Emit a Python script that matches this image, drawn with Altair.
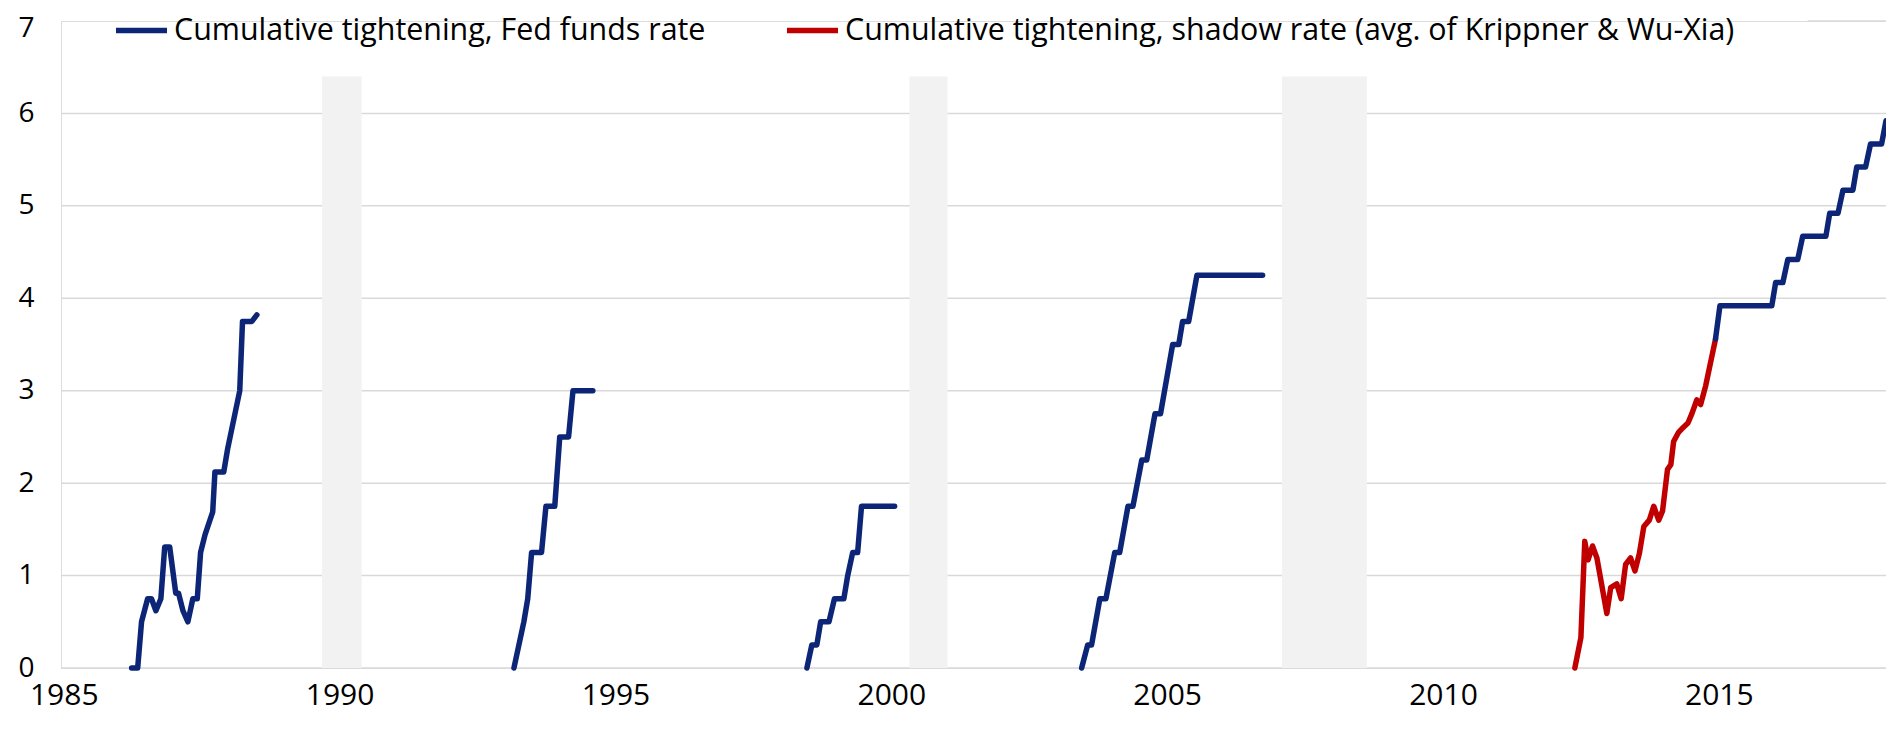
import altair as alt
import pandas as pd

# ---------------- data (x in axis-label years, y in percentage points) ----------------
FED_NAME = "Cumulative tightening, Fed funds rate"
SHADOW_NAME = "Cumulative tightening, shadow rate (avg. of Krippner & Wu-Xia)"

fed_1986_x = [1986.23, 1986.34, 1986.41, 1986.52, 1986.59, 1986.67, 1986.76, 1986.83, 1986.92,
              1987.03, 1987.08, 1987.16, 1987.25, 1987.34, 1987.42, 1987.48, 1987.56, 1987.70,
              1987.74, 1987.90, 1987.97, 1988.19, 1988.24, 1988.41, 1988.50]
fed_1986_y = [0, 0, 0.5, 0.75, 0.75, 0.62, 0.75, 1.31, 1.31, 0.81, 0.81, 0.62, 0.5, 0.75, 0.75,
              1.25, 1.44, 1.69, 2.12, 2.12, 2.37, 3.0, 3.75, 3.75, 3.82]

fed_1994_x = [1993.16, 1993.34, 1993.41, 1993.48, 1993.66, 1993.74, 1993.90, 1993.99, 1994.15,
              1994.23, 1994.59]
fed_1994_y = [0, 0.5, 0.75, 1.25, 1.25, 1.75, 1.75, 2.5, 2.5, 3.0, 3.0]

fed_1999_x = [1998.47, 1998.56, 1998.65, 1998.72, 1998.87, 1998.97, 1999.14, 1999.21, 1999.30,
              1999.39, 1999.46, 2000.06]
fed_1999_y = [0, 0.25, 0.25, 0.5, 0.5, 0.75, 0.75, 1.0, 1.25, 1.25, 1.75, 1.75]

fed_2004_x = [2003.45, 2003.56, 2003.63, 2003.78, 2003.89, 2004.05, 2004.14, 2004.29, 2004.38,
              2004.54, 2004.63, 2004.78, 2004.88, 2005.10, 2005.21, 2005.28, 2005.39, 2005.54,
              2006.73]
fed_2004_y = [0, 0.25, 0.25, 0.75, 0.75, 1.25, 1.25, 1.75, 1.75, 2.25, 2.25, 2.75, 2.75, 3.5,
              3.5, 3.75, 3.75, 4.25, 4.25]

shadow_2013_x = [2012.39, 2012.50, 2012.57, 2012.63, 2012.71, 2012.79, 2012.97, 2013.04, 2013.15,
                 2013.23, 2013.31, 2013.40, 2013.48, 2013.56, 2013.64, 2013.74, 2013.82, 2013.91,
                 2013.98, 2014.07, 2014.13, 2014.18, 2014.27, 2014.35, 2014.44, 2014.51, 2014.60,
                 2014.67, 2014.76, 2014.94]
shadow_2013_y = [0, 0.33, 1.37, 1.17, 1.32, 1.19, 0.59, 0.87, 0.91, 0.75, 1.12, 1.19, 1.05, 1.24,
                 1.53, 1.6, 1.75, 1.6, 1.7, 2.15, 2.2, 2.45, 2.55, 2.6, 2.65, 2.75, 2.9, 2.85,
                 3.05, 3.56]

fed_2016_x = [2014.94, 2015.02, 2015.96, 2016.03, 2016.16, 2016.25, 2016.43, 2016.52, 2016.94,
              2017.01, 2017.16, 2017.25, 2017.43, 2017.50, 2017.66, 2017.75, 2017.95, 2018.03]
fed_2016_y = [3.56, 3.92, 3.92, 4.17, 4.17, 4.42, 4.42, 4.67, 4.67, 4.92, 4.92, 5.17, 5.17, 5.42,
              5.42, 5.67, 5.67, 5.92]

# recession shading (visible extent)
shade_start = [1989.68, 2000.33, 2007.08]
shade_end = [1990.40, 2001.02, 2008.62]
shade_bottom = [0, 0, 0]
shade_top = [6.4, 6.4, 6.4]

x_ticks = [1985, 1990, 1995, 2000, 2005, 2010, 2015]
y_ticks = [0, 1, 2, 3, 4, 5, 6, 7]
grid_values = [0, 1, 2, 3, 4, 5, 6]
# only the right-hand end of the top gridline shows beside the legend
top_grid_start = [2016.61]
top_grid_end = [2018.03]
top_grid_value = [7]

# ---------------- tables ----------------
rows = []
def add(series, cycle, xs, ys):
    for i, (xv, yv) in enumerate(zip(xs, ys)):
        rows.append({"series": series, "cycle": cycle, "idx": i, "x": xv, "y": yv})

add(FED_NAME, "c1986", fed_1986_x, fed_1986_y)
add(FED_NAME, "c1994", fed_1994_x, fed_1994_y)
add(FED_NAME, "c1999", fed_1999_x, fed_1999_y)
add(FED_NAME, "c2004", fed_2004_x, fed_2004_y)
add(SHADOW_NAME, "c2013", shadow_2013_x, shadow_2013_y)
add(FED_NAME, "c2016", fed_2016_x, fed_2016_y)
lines_df = pd.DataFrame(rows)

shade_df = pd.DataFrame({"start": shade_start, "end": shade_end,
                         "lo": shade_bottom, "hi": shade_top})
grid_df = pd.DataFrame({"v": grid_values})
top_grid_df = pd.DataFrame({"x1": top_grid_start, "x2": top_grid_end, "v": top_grid_value})

# ---------------- styling ----------------
FONT = "Open Sans"
BLUE = "#0c2577"
RED = "#c00000"
GRID = "#d9d9d9"

x_scale = alt.Scale(domain=[1984.95, 2018.03], nice=False, zero=False)
y_scale = alt.Scale(domain=[0, 7], nice=False, zero=True)

x_axis = alt.Axis(values=x_ticks, format="d", grid=False, domain=False, ticks=False,
                  labelFont=FONT, labelFontSize=30, labelColor="#000000", labelPadding=12,
                  labelFlush=False, labelOverlap=False, title=None)
y_axis = alt.Axis(values=y_ticks, format="d", grid=False, domain=False, ticks=False,
                  labelFont=FONT, labelFontSize=28, labelColor="#000000", labelPadding=27,
                  labelAlign="right", title=None,
                  labelOffset={"condition": {"test": "datum.value == 7", "value": 7}, "value": 0})

grid = alt.Chart(grid_df).mark_rule(color=GRID, strokeWidth=1.5).encode(
    y=alt.Y("v:Q", scale=y_scale, axis=y_axis),
)

top_grid = alt.Chart(top_grid_df).mark_rule(color=GRID, strokeWidth=1.5).encode(
    x=alt.X("x1:Q", scale=x_scale, axis=x_axis),
    x2="x2:Q",
    y=alt.Y("v:Q", scale=y_scale, axis=y_axis),
)

shade = alt.Chart(shade_df).mark_rect(color="#f2f2f2").encode(
    x=alt.X("start:Q", scale=x_scale, axis=x_axis),
    x2="end:Q",
    y=alt.Y("lo:Q", scale=y_scale, axis=y_axis),
    y2="hi:Q",
)

lines = alt.Chart(lines_df).mark_line(strokeWidth=5.5, strokeCap="round", strokeJoin="round").encode(
    x=alt.X("x:Q", scale=x_scale, axis=x_axis),
    y=alt.Y("y:Q", scale=y_scale, axis=y_axis),
    color=alt.Color("series:N",
                    scale=alt.Scale(domain=[FED_NAME, SHADOW_NAME], range=[BLUE, RED]),
                    legend=alt.Legend(title=None, orient="none", legendX=52, legendY=-19,
                                      direction="horizontal", columns=2,
                                      symbolType="stroke", symbolSize=2601,
                                      symbolStrokeWidth=5.5, labelFont=FONT, labelFontSize=30.4,
                                      labelColor="#000000", labelLimit=1500,
                                      columnPadding=70, labelOffset=4, padding=0)),
    detail="cycle:N",
    order="idx:Q",
)

chart = alt.layer(grid, top_grid, shade, lines).properties(
    width=1825, height=647,
    padding={"left": 53, "top": 13, "right": 0, "bottom": 50},
    autosize=alt.AutoSizeParams(type="none"),
).configure_view(stroke=None).configure(background="#ffffff")

chart.save("out.html", embed_options={"renderer": "svg", "actions": False})
